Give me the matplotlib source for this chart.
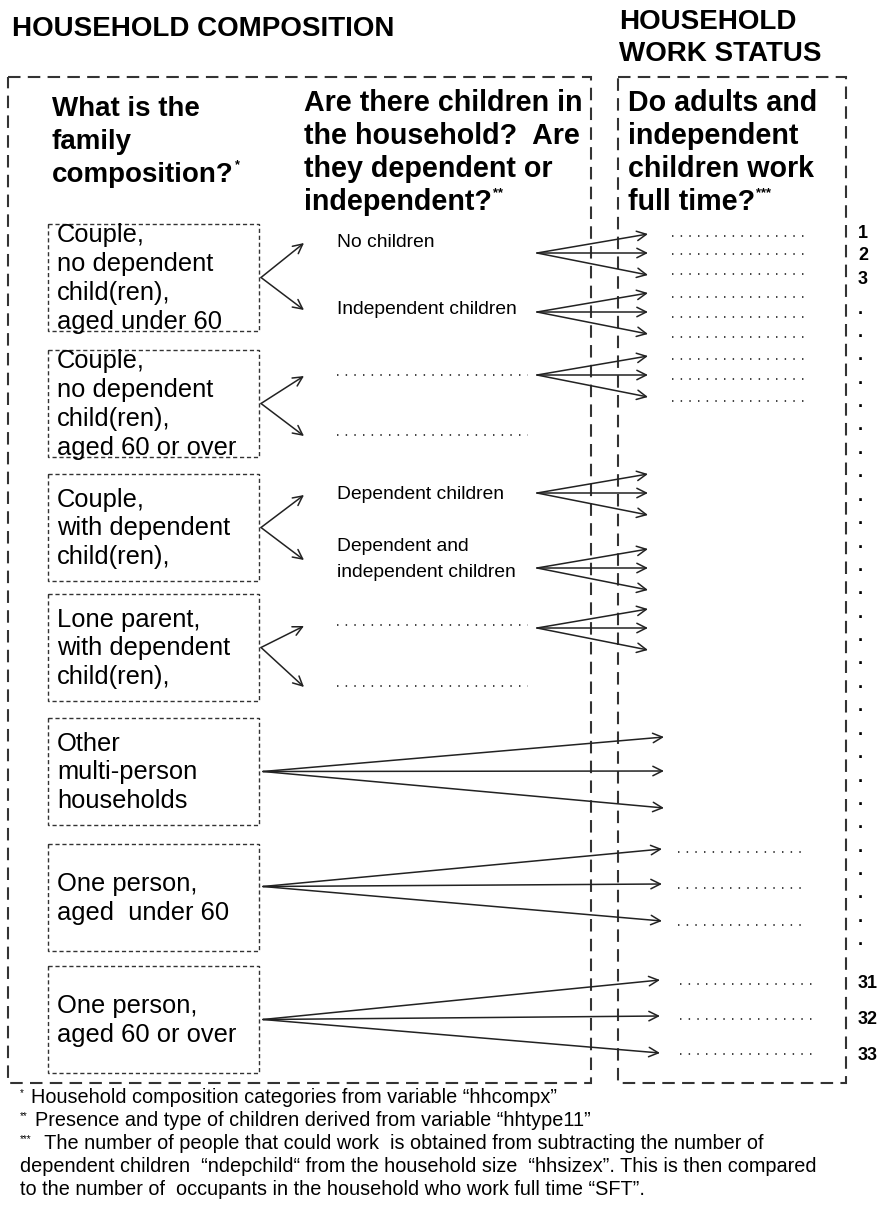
import matplotlib
matplotlib.use("Agg")
import matplotlib.pyplot as plt
from matplotlib.patches import Rectangle

plt.rcParams['font.family'] = ['Liberation Sans', 'DejaVu Sans']

# ---- diagram content ----
title_left = "HOUSEHOLD COMPOSITION"
title_right = ["HOUSEHOLD", "WORK STATUS"]
q1 = ["What is the", "family", "composition?"]
q2 = ["Are there children in", "the household?  Are", "they dependent or", "independent?"]
q3 = ["Do adults and", "independent", "children work", "full time?"]

family_types = [
    "Couple,\nno dependent\nchild(ren),\naged under 60",
    "Couple,\nno dependent\nchild(ren),\naged 60 or over",
    "Couple,\nwith dependent\nchild(ren),",
    "Lone parent,\nwith dependent\nchild(ren),",
    "Other\nmulti-person\nhouseholds",
    "One person,\naged  under 60",
    "One person,\naged 60 or over",
]
# children type for each branch of the first four family types ("" = blank dotted line)
children_types = ["No children", "Independent children", "", "",
                  "Dependent children", "Dependent and\nindependent children", "", ""]
# which children branches go on to the work-status split
children_split = [True, True, True, False, True, True, True, False]

work_labels = ["1", "2", "3"] + ["."] * 28 + ["31", "32", "33"]

footnote_marks = ["*", "**", "***", "", ""]
footnotes = [
    "Household composition categories from variable \u201chhcompx\u201d",
    "Presence and type of children derived from variable \u201chhtype11\u201d",
    " The number of people that could work  is obtained from subtracting the number of",
    "dependent children  \u201cndepchild\u201c from the household size  \u201chhsizex\u201d. This is then compared",
    "to the number of  occupants in the household who work full time \u201cSFT\u201d.",
]

# ---- layout (pixel coords) ----
W, H = 881, 1207
fig = plt.figure(figsize=(W / 100, H / 100), dpi=100)
ax = fig.add_axes([0, 0, 1, 1])
ax.set_xlim(0, W)
ax.set_ylim(H, 0)
ax.axis('off')
ink = '#222222'

def arrow(x0, y0, x1, y1):
    ax.annotate('', xy=(x1, y1), xytext=(x0, y0),
                arrowprops=dict(arrowstyle='->', color=ink, lw=1.1,
                                mutation_scale=17, shrinkA=0, shrinkB=0))

def dots(x0, x1, y):
    ax.plot([x0, x1], [y, y], color='#333333', lw=1.3, ls=(0, (0.8, 4.0)),
            solid_capstyle='butt')

renderer = fig.canvas.get_renderer()

def text_with_sup(x, y, s, sup, size, weight):
    t = ax.text(x, y, s, fontsize=size, fontweight=weight, va='baseline', color='black')
    if sup:
        bb = t.get_window_extent(renderer=renderer)
        xe = ax.transData.inverted().transform((bb.x1, bb.y1))[0]
        ax.text(xe + 1, y - 14, sup, fontsize=size * 0.45, fontweight=weight,
                va='baseline', color='black')

# titles
ax.text(12, 36, title_left, fontsize=20, fontweight='bold', va='baseline')
for i, s in enumerate(title_right):
    ax.text(619, 29 + 32 * i, s, fontsize=20, fontweight='bold', va='baseline')

# outer dashed boxes
for x0, x1 in [(8, 591), (618, 846)]:
    ax.add_patch(Rectangle((x0, 77), x1 - x0, 1006, fill=False, ec='#333333',
                           lw=1.5, ls=(0, (6, 3.5))))

# question headers
for i, s in enumerate(q1):
    text_with_sup(52, 116 + 33 * i, s, "*" if i == len(q1) - 1 else "", 20, 'bold')
for i, s in enumerate(q2):
    text_with_sup(304, 111 + 33 * i, s, "**" if i == len(q2) - 1 else "", 20.6, 'bold')
for i, s in enumerate(q3):
    text_with_sup(628, 111 + 33 * i, s, "***" if i == len(q3) - 1 else "", 20.6, 'bold')

# family composition boxes
box_tops = [224, 350, 474, 594, 718, 844, 966]
box_h = 107
box_x0, box_x1 = 48, 259
centres = []
for top, label in zip(box_tops, family_types):
    ax.add_patch(Rectangle((box_x0, top), box_x1 - box_x0, box_h, fill=False,
                           ec='#333333', lw=1.0, ls=(0, (3, 2))))
    c = top + box_h / 2
    centres.append(c)
    lines = label.split("\n")
    for j, ln in enumerate(lines):
        ax.text(57, c + (j - (len(lines) - 1) / 2) * 28.7 + 8, ln, fontsize=18.4,
                va='baseline')

# children branches
child_y = [242, 309, 375, 435, 494, 559, 625, 686]
split_y = [253, 312, 375, None, 493, 568, 628, None]
for k in range(4):
    c = centres[k]
    arrow(261, c, 304, child_y[2 * k] + 1)
    arrow(261, c, 304, child_y[2 * k + 1] + 1)
for k, (lab, y) in enumerate(zip(children_types, child_y)):
    if lab:
        lines = lab.split("\n")
        for j, ln in enumerate(lines):
            ax.text(337, y + (j - (len(lines) - 1) / 2) * 26 + 5, ln,
                    fontsize=13.9, va='baseline')
    else:
        dots(337, 528, y)

# splits into work status
for k in range(8):
    if not children_split[k]:
        continue
    y = split_y[k]
    for dy in (-19, 0, 22):
        arrow(537, y, 648, y + dy)

# right hand dotted placeholders for first three groups
for y in [236, 254, 274, 297, 317, 337, 359, 379, 401]:
    dots(672, 807, y)

# other multi-person / one-person splits
for y in [737, 771, 808]:
    arrow(263, centres[4], 664, y)
for y in [849, 884, 921]:
    arrow(263, centres[5] - 11, 662, y)
for y in [980, 1016, 1053]:
    arrow(263, centres[6], 660, y)
for y in [852, 888, 925]:
    dots(678, 808, y)
for y in [984, 1019, 1054]:
    dots(680, 812, y)

# row numbers
row_y = [234, 256, 279] + [309 + 23.4 * i for i in range(28)] + [983, 1020, 1055]
for lab, y in zip(work_labels, row_y):
    ax.text(858, y, lab, fontsize=13, fontweight='bold', va='center')

# footnotes
foot_y = [1103, 1126, 1149, 1172, 1195]
for mark, s, y in zip(footnote_marks, footnotes, foot_y):
    x = 20
    if mark:
        ax.text(x, y - 7, mark, fontsize=7, va='baseline')
        x = 22 + 4 * len(mark) + 5
    ax.text(x, y, s, fontsize=14.3, va='baseline')

fig.savefig("out.png", dpi=100, facecolor='white')
